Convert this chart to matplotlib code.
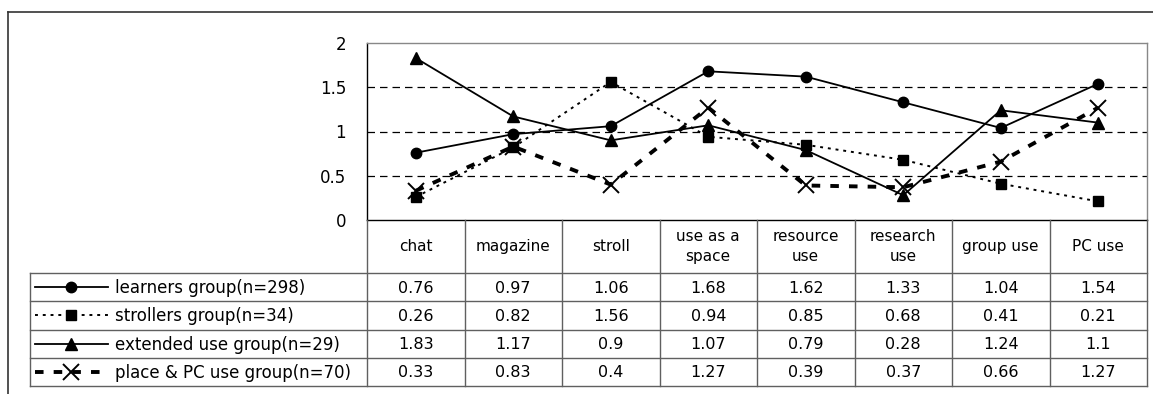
import numpy as np
import matplotlib
matplotlib.use('Agg')
import matplotlib.pyplot as plt

categories = ['chat', 'magazine', 'stroll', 'use as a\nspace', 'resource\nuse',
              'research\nuse', 'group use', 'PC use']
series_names = ['learners group(n=298)', 'strollers group(n=34)',
                'extended use group(n=29)', 'place & PC use group(n=70)']
learners = [0.76, 0.97, 1.06, 1.68, 1.62, 1.33, 1.04, 1.54]
strollers = [0.26, 0.82, 1.56, 0.94, 0.85, 0.68, 0.41, 0.21]
extended = [1.83, 1.17, 0.9, 1.07, 0.79, 0.28, 1.24, 1.1]
place_pc = [0.33, 0.83, 0.4, 1.27, 0.39, 0.37, 0.66, 1.27]
yticks = [0, 0.5, 1, 1.5, 2]

W, H = 1153, 394
fig = plt.figure(figsize=(W / 100, H / 100), dpi=100)

# pixel layout
L, R, T, B = 367, 1147, 43, 220
ax = fig.add_axes([L / W, 1 - B / H, (R - L) / W, (B - T) / H])

styles = [
    dict(color='black', lw=1.3, ls='-', marker='o', ms=7.5),
    dict(color='black', lw=1.4, ls=(0, (1.5, 2.5)), marker='s', ms=6.5),
    dict(color='black', lw=1.3, ls='-', marker='^', ms=8.5),
    dict(color='black', lw=2.8, ls=(0, (2.2, 2.6)), marker='x', ms=11.5, mew=1.4),
]
data = [learners, strollers, extended, place_pc]
x = np.arange(len(categories))
for vals, st in zip(data, styles):
    ax.plot(x, vals, **st, zorder=3)

ax.set_xlim(-0.5, len(categories) - 0.5)
ax.set_ylim(0, 2)
ax.set_yticks(yticks)
ax.set_yticklabels([f'{v:g}' for v in yticks], fontsize=12)
ax.tick_params(axis='y', length=0, pad=15)
ax.set_xticks([])
for v in yticks[1:-1]:
    ax.axhline(v, color='black', lw=0.9, ls=(0, (6, 4)), zorder=1)
ax.spines['left'].set_color('black')
ax.spines['bottom'].set_color('black')
ax.spines['top'].set_color('#888888')
ax.spines['right'].set_color('#888888')
for s in ax.spines.values():
    s.set_linewidth(1.0)

# overlay for frame and data table
tab = fig.add_axes([0, 0, 1, 1])
tab.set_xlim(0, W)
tab.set_ylim(H, 0)
tab.axis('off')

# outer chart frame
tab.plot([8, W], [12, 12], color='#333333', lw=1.2)
tab.plot([8, 8], [12, H], color='#333333', lw=1.2)

lc = '#606060'
legL = 30
colw = (R - L) / len(categories)
row_top = 273
rowh = (386 - row_top) / len(series_names)

tab.plot([L, L], [B, 386], color=lc, lw=1)
tab.plot([R, R], [B, 386], color=lc, lw=1)
for i in range(1, len(categories)):
    xx = L + i * colw
    tab.plot([xx, xx], [B, 386], color=lc, lw=1)
for j in range(len(series_names) + 1):
    yy = row_top + j * rowh
    tab.plot([legL, R], [yy, yy], color=lc, lw=1)
tab.plot([legL, legL], [row_top, 386], color=lc, lw=1)

for i, c in enumerate(categories):
    tab.text(L + (i + 0.5) * colw, (B + row_top) / 2, c, ha='center',
             va='center', fontsize=11, linespacing=1.45)

for j, (name, vals, st) in enumerate(zip(series_names, data, styles)):
    yc = row_top + (j + 0.5) * rowh
    # legend key: line with a single marker in the middle
    tab.plot([35, 71, 108], [yc, yc, yc], markevery=[1], **st)
    tab.text(115, yc + 1, name, ha='left', va='center', fontsize=12)
    for i, v in enumerate(vals):
        tab.text(L + (i + 0.5) * colw, yc + 1, f'{v:g}', ha='center',
                 va='center', fontsize=11.5)

fig.savefig('out.png', dpi=100)
